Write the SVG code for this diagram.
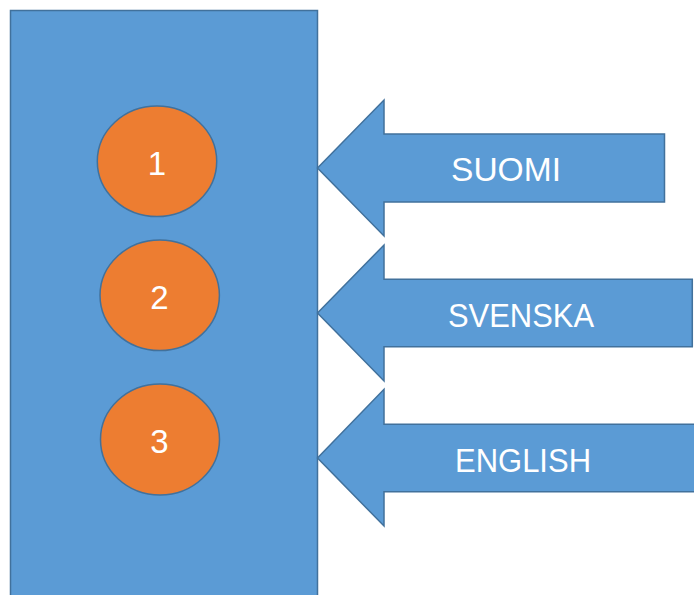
<svg xmlns="http://www.w3.org/2000/svg" width="694" height="595" viewBox="0 0 694 595">
<style>
.shape{fill:#5B9BD5;stroke:#41719C;stroke-width:1.5;stroke-linejoin:miter}
.dot{fill:#ED7D31;stroke:#41719C;stroke-width:1.5}
.lbl{font-family:"Liberation Sans",Arial,sans-serif;font-size:33px;fill:#FFFFFF;text-anchor:middle}
</style>
<rect width="694" height="595" fill="#FFFFFF"/>
<g id="panel">
<rect class="shape" x="10.5" y="10.5" width="307" height="600"/>
</g>
<g id="node1">
<ellipse class="dot" cx="157" cy="161.3" rx="59.7" ry="55.3"/>
<text class="lbl" x="157" y="175">1</text>
</g>
<g id="node2">
<ellipse class="dot" cx="159.7" cy="295.3" rx="59.7" ry="55.3"/>
<text class="lbl" x="159.5" y="309.3">2</text>
</g>
<g id="node3">
<ellipse class="dot" cx="160" cy="439.5" rx="59.5" ry="55.5"/>
<text class="lbl" x="159.5" y="453">3</text>
</g>
<g id="connectors">
<g id="arrow-suomi">
<path class="shape" d="M317.5,168 L384,100 L384,134 L664.5,134 L664.5,202 L384,202 L384,236 Z"/>
<text class="lbl" x="506" y="180.7" textLength="110" lengthAdjust="spacingAndGlyphs">SUOMI</text>
</g>
<g id="arrow-svenska">
<path class="shape" d="M317.5,313 L384,245 L384,279.3 L692.3,279.3 L692.3,346.7 L384,346.7 L384,381 Z"/>
<text class="lbl" x="521" y="326.7" textLength="146" lengthAdjust="spacingAndGlyphs">SVENSKA</text>
</g>
<g id="arrow-english">
<path class="shape" d="M317.5,458 L384,389.3 L384,424.3 L700,424.3 L700,491.7 L384,491.7 L384,526 Z"/>
<text class="lbl" x="523" y="471.7" textLength="136" lengthAdjust="spacingAndGlyphs">ENGLISH</text>
</g>
</g>
</svg>
